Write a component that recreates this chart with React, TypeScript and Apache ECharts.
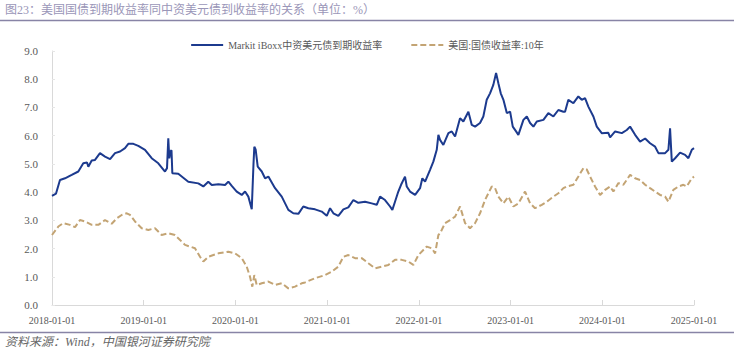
import React, { useEffect, useRef } from "react";
import * as echarts from "echarts";

const titleText = "图23：美国国债到期收益率同中资美元债到收益率的关系（单位：%）";
const sourceText = "资料来源：Wind，中国银河证券研究院";
const seriesNames = ["Markit iBoxx中资美元债到期收益率", "美国:国债收益率:10年"];
const xTickYears = [2018, 2019, 2020, 2021, 2022, 2023, 2024, 2025];

// Markit iBoxx Chinese USD bond yield (dates in decimal years)
const iboxxDates = [
  2018.000, 2018.044, 2018.087, 2018.142, 2018.215, 2018.287, 2018.341, 2018.382, 2018.396, 2018.433, 2018.469, 2018.523, 2018.578, 2018.633, 2018.687, 2018.742, 2018.796, 2018.832, 2018.887, 2018.941,
  2019.014, 2019.087, 2019.159, 2019.232, 2019.254, 2019.268, 2019.279, 2019.292, 2019.303, 2019.312, 2019.377, 2019.486, 2019.595, 2019.650, 2019.704, 2019.742, 2019.814, 2019.887, 2019.923, 2019.960,
  2020.014, 2020.069, 2020.105, 2020.141, 2020.178, 2020.197, 2020.206, 2020.221, 2020.243, 2020.287, 2020.323, 2020.359, 2020.432, 2020.505, 2020.577, 2020.631, 2020.686, 2020.740, 2020.795, 2020.868, 2020.941, 2020.996,
  2021.032, 2021.068, 2021.122, 2021.177, 2021.231, 2021.286, 2021.340, 2021.413, 2021.486, 2021.541, 2021.577, 2021.631, 2021.686, 2021.711, 2021.740, 2021.776, 2021.806, 2021.849, 2021.868, 2021.904, 2021.959,
  2022.013, 2022.038, 2022.068, 2022.122, 2022.158, 2022.195, 2022.213, 2022.231, 2022.267, 2022.322, 2022.359, 2022.395, 2022.449, 2022.485, 2022.540, 2022.577, 2022.613, 2022.667, 2022.703, 2022.740, 2022.776, 2022.812, 2022.842, 2022.867, 2022.893, 2022.922, 2022.959, 2022.995,
  2023.024, 2023.060, 2023.085, 2023.140, 2023.177, 2023.213, 2023.249, 2023.286, 2023.358, 2023.412, 2023.467, 2023.521, 2023.576, 2023.594, 2023.630, 2023.685, 2023.739, 2023.776, 2023.812, 2023.848, 2023.903, 2023.940, 2023.994,
  2024.066, 2024.085, 2024.140, 2024.213, 2024.267, 2024.303, 2024.358, 2024.412, 2024.467, 2024.521, 2024.576, 2024.612, 2024.685, 2024.721, 2024.739, 2024.758, 2024.794, 2024.848, 2024.903, 2024.939, 2024.976, 2025.000,
];
const iboxxValues = [
  3.87, 3.95, 4.43, 4.49, 4.61, 4.73, 5.02, 5.05, 4.90, 5.12, 5.14, 5.38, 5.26, 5.17, 5.38, 5.44, 5.56, 5.71, 5.71, 5.64,
  5.50, 5.20, 5.02, 4.73, 4.85, 5.91, 5.20, 5.45, 5.48, 4.67, 4.65, 4.37, 4.31, 4.20, 4.37, 4.25, 4.28, 4.25, 4.37, 4.22,
  4.02, 3.90, 4.02, 3.84, 3.39, 5.00, 5.61, 5.50, 4.90, 4.73, 4.49, 4.55, 4.14, 3.84, 3.37, 3.25, 3.23, 3.49, 3.43, 3.39, 3.31, 3.16,
  3.43, 3.25, 3.16, 3.39, 3.46, 3.72, 3.62, 3.66, 3.60, 3.55, 3.84, 3.72, 3.49, 3.37, 3.66, 4.02, 4.26, 4.55, 4.20, 4.02, 3.90,
  4.14, 4.49, 4.37, 4.79, 5.08, 5.50, 6.03, 5.85, 5.67, 6.09, 6.15, 5.97, 6.62, 6.50, 6.85, 6.38, 6.32, 6.45, 6.68, 7.27, 7.50, 7.80, 8.22, 7.86, 7.50, 7.27, 6.80, 6.85,
  6.32, 6.15, 6.03, 6.56, 6.68, 6.45, 6.32, 6.50, 6.56, 6.80, 6.68, 6.91, 6.85, 6.85, 7.27, 7.15, 7.39, 7.27, 7.33, 7.03, 6.68, 6.32, 6.09,
  6.10, 5.94, 6.15, 6.09, 6.20, 6.32, 6.03, 5.79, 5.90, 5.73, 5.61, 5.38, 5.38, 5.50, 6.26, 5.08, 5.20, 5.40, 5.32, 5.20, 5.50, 5.56,
];

// US Treasury 10Y yield (dates in decimal years)
const ust10Dates = [
  2018.000, 2018.069, 2018.123, 2018.196, 2018.251, 2018.305, 2018.360, 2018.433, 2018.505, 2018.578, 2018.651, 2018.706, 2018.760, 2018.815, 2018.851, 2018.905, 2018.978,
  2019.050, 2019.123, 2019.196, 2019.268, 2019.341, 2019.450, 2019.559, 2019.614, 2019.650, 2019.704, 2019.814, 2019.923, 2019.996,
  2020.069, 2020.123, 2020.159, 2020.184, 2020.206, 2020.232, 2020.287, 2020.359, 2020.432, 2020.505, 2020.577, 2020.650, 2020.723, 2020.759, 2020.868, 2020.977,
  2021.050, 2021.122, 2021.177, 2021.231, 2021.304, 2021.377, 2021.449, 2021.522, 2021.595, 2021.667, 2021.740, 2021.813, 2021.886, 2021.940, 2021.995,
  2022.049, 2022.086, 2022.141, 2022.177, 2022.213, 2022.231, 2022.286, 2022.340, 2022.395, 2022.449, 2022.504, 2022.558, 2022.613, 2022.667, 2022.722, 2022.758, 2022.795, 2022.831, 2022.867, 2022.922, 2022.976,
  2023.031, 2023.085, 2023.158, 2023.213, 2023.267, 2023.340, 2023.395, 2023.467, 2023.521, 2023.576, 2023.613, 2023.685, 2023.739, 2023.794, 2023.831, 2023.867, 2023.921, 2023.976,
  2024.031, 2024.085, 2024.121, 2024.176, 2024.230, 2024.303, 2024.358, 2024.412, 2024.467, 2024.521, 2024.576, 2024.630, 2024.685, 2024.721, 2024.775, 2024.830, 2024.884, 2024.921, 2024.976, 2025.000,
];
const ust10Values = [
  2.48, 2.78, 2.90, 2.84, 2.76, 3.01, 2.96, 2.84, 2.84, 3.01, 2.88, 3.07, 3.19, 3.25, 3.19, 2.96, 2.72,
  2.66, 2.72, 2.48, 2.54, 2.48, 2.13, 2.01, 1.71, 1.54, 1.71, 1.83, 1.89, 1.83,
  1.66, 1.36, 1.00, 0.65, 1.06, 0.71, 0.77, 0.83, 0.71, 0.77, 0.59, 0.65, 0.77, 0.80, 0.95, 1.06,
  1.18, 1.36, 1.71, 1.77, 1.66, 1.66, 1.48, 1.30, 1.36, 1.42, 1.60, 1.60, 1.54, 1.42, 1.77,
  1.95, 2.07, 2.01, 1.83, 2.48, 2.54, 2.90, 3.01, 3.13, 3.49, 2.90, 2.72, 2.90, 3.25, 3.72, 3.96, 4.20, 4.14, 3.84, 3.60, 3.84,
  3.49, 3.60, 4.02, 3.60, 3.43, 3.55, 3.66, 3.84, 3.96, 4.14, 4.20, 4.26, 4.55, 4.85, 4.80, 4.55, 4.20, 3.90,
  4.08, 4.20, 4.02, 4.32, 4.26, 4.61, 4.49, 4.43, 4.26, 4.14, 4.02, 3.90, 3.84, 3.66, 4.08, 4.20, 4.26, 4.20, 4.49, 4.55,
];

const SERIF = "'Liberation Serif', 'DejaVu Serif', 'Noto Sans CJK SC', serif";
const MIXED = "'Liberation Serif', 'Noto Sans CJK SC', serif";

export default function App() {
  const ref = useRef<HTMLDivElement>(null);

  useEffect(() => {
    if (!ref.current) return;
    const chart = echarts.init(ref.current, null, { renderer: "svg" });
    const zip = (xs: number[], ys: number[]) => xs.map((x, i) => [x, ys[i]]);

    chart.setOption({
      animation: false,
      backgroundColor: "#ffffff",
      grid: { left: 52, right: 40, top: 51, bottom: 50, containLabel: false },
      legend: {
        top: 35,
        left: "center",
        itemWidth: 32,
        itemHeight: 10,
        itemGap: 28,
        itemStyle: { opacity: 0 },
        textStyle: { fontSize: 10, color: "#595959", fontFamily: MIXED },
        data: seriesNames,
      },
      xAxis: {
        type: "value",
        min: xTickYears[0],
        max: xTickYears[xTickYears.length - 1],
        interval: 1,
        axisLine: { show: true, lineStyle: { color: "#d9d9d9", width: 1 } },
        axisTick: { show: true, inside: true, length: 5, lineStyle: { color: "#d9d9d9" } },
        axisLabel: {
          formatter: (v: number) => `${v}-01-01`,
          color: "#595959",
          fontSize: 10,
          margin: 10,
          fontFamily: SERIF,
        },
        splitLine: { show: false },
      },
      yAxis: {
        type: "value",
        min: 0,
        max: 9,
        interval: 1,
        axisLine: { show: true, lineStyle: { color: "#d9d9d9", width: 1 } },
        axisTick: { show: true, inside: true, length: 3, lineStyle: { color: "#e6e6e6" } },
        axisLabel: {
          formatter: (v: number) => v.toFixed(1),
          color: "#595959",
          fontSize: 11,
          margin: 14,
          fontFamily: SERIF,
        },
        splitLine: { show: false },
      },
      series: [
        {
          name: seriesNames[0],
          type: "line",
          data: zip(iboxxDates, iboxxValues),
          symbol: "none",
          showSymbol: false,
          lineStyle: { color: "#1c3a8e", width: 2 },
          itemStyle: { color: "#1c3a8e" },
          z: 3,
        },
        {
          name: seriesNames[1],
          type: "line",
          data: zip(ust10Dates, ust10Values),
          symbol: "none",
          showSymbol: false,
          lineStyle: { color: "#c3a474", width: 2, type: [6, 3] },
          itemStyle: { color: "#c3a474" },
          z: 2,
        },
      ],
      graphic: [
        {
          type: "text",
          left: 5,
          top: 4,
          style: { text: titleText, fontSize: 12, fill: "#9a96b8", fontFamily: MIXED },
        },
        {
          type: "line",
          shape: { x1: 0, y1: 20.5, x2: 734, y2: 20.5 },
          style: { stroke: "#8884a6", lineWidth: 1.5 },
        },
        {
          type: "line",
          shape: { x1: 0, y1: 332.5, x2: 734, y2: 332.5 },
          style: { stroke: "#8884a6", lineWidth: 1.5 },
        },
        {
          type: "text",
          left: 5,
          top: 336,
          style: { text: sourceText, fontSize: 12, fill: "#666666", fontStyle: "italic", fontFamily: MIXED },
        },
      ],
    });

    return () => chart.dispose();
  }, []);

  return (
    <div
      ref={ref}
      style={{ position: "absolute", left: 0, top: 0, width: 734, height: 355, background: "#fff" }}
    />
  );
}
